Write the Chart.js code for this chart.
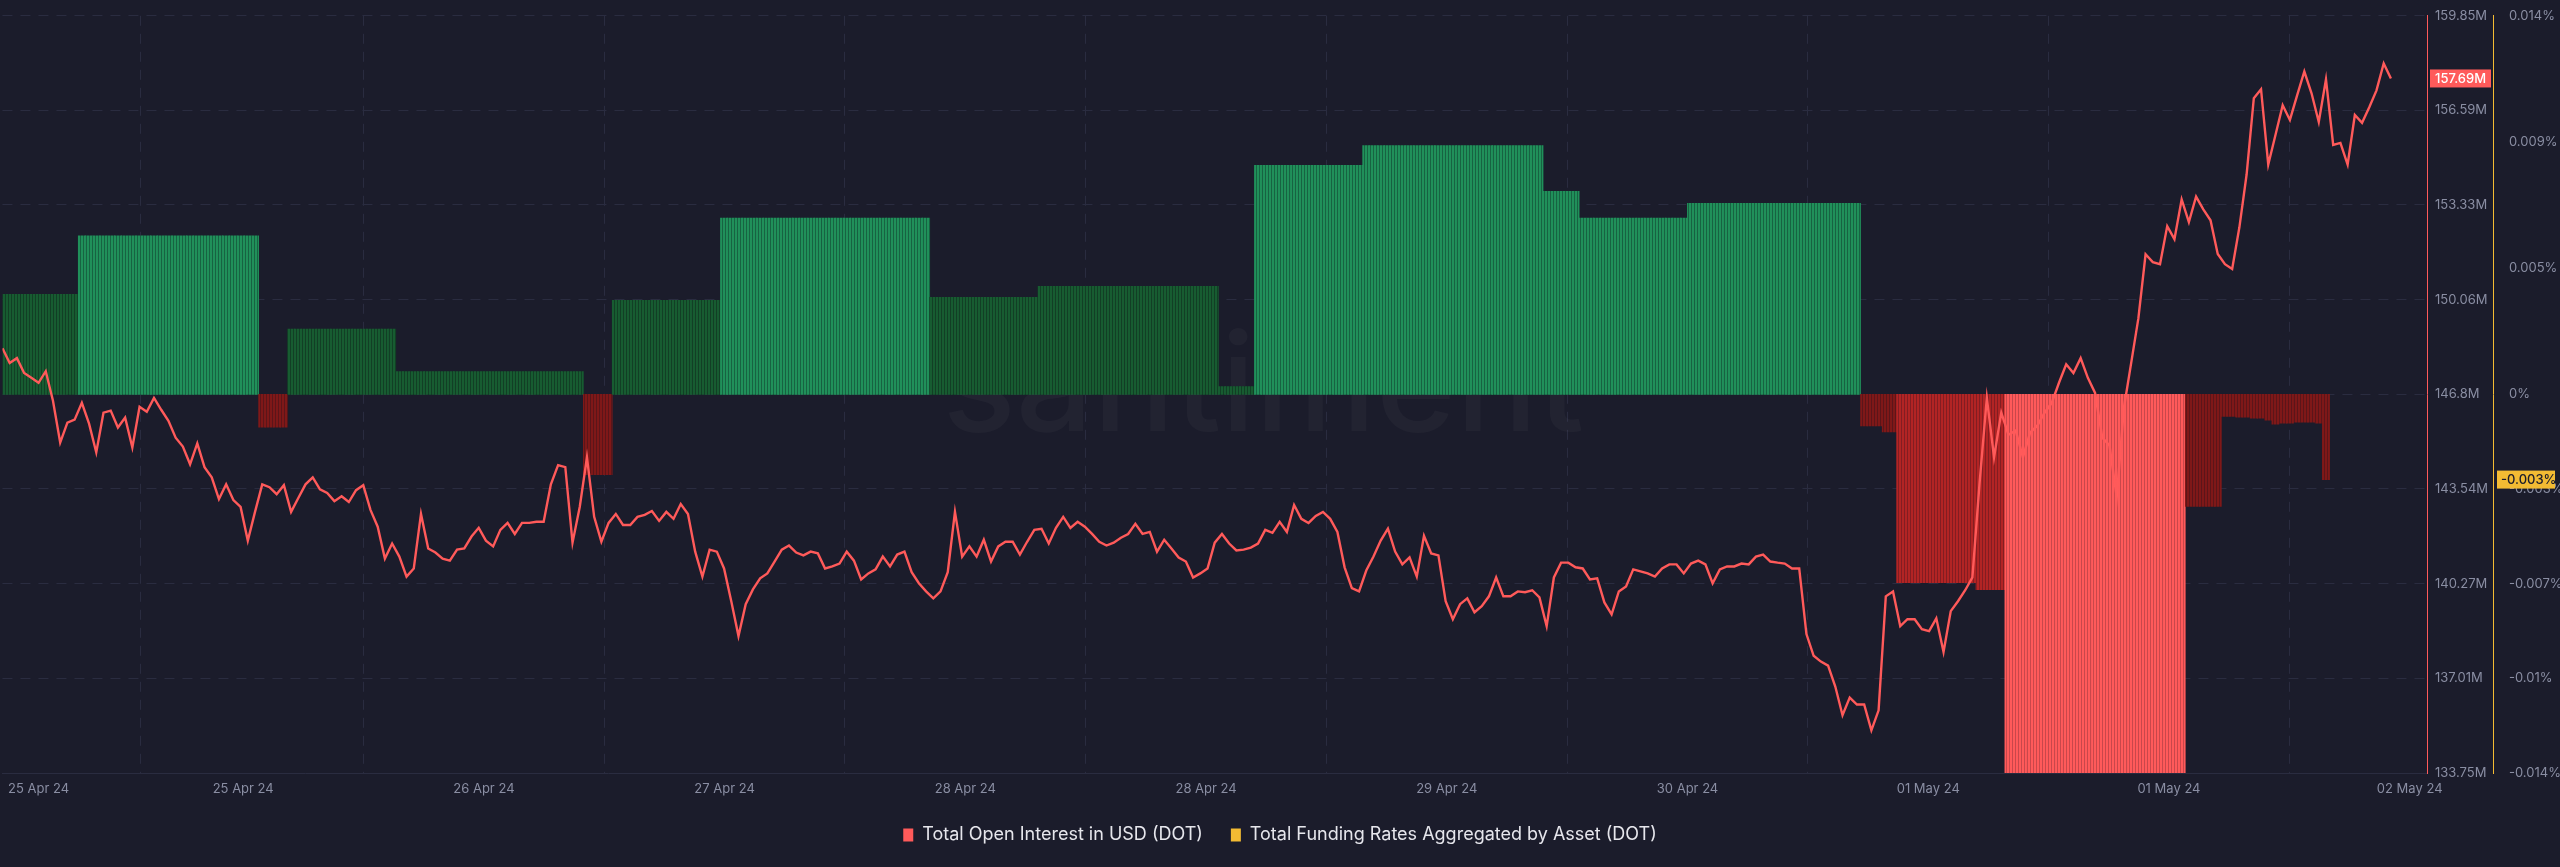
<!DOCTYPE html>
<html>
<head>
  <meta charset="utf-8" />
  <title>DOT Open Interest / Funding Rates</title>
  <style>
    html, body { margin: 0; padding: 0; background: #1b1c2b; }
    #wrap { width: 2560px; height: 867px; }
  </style>
</head>
<body>
  <div id="wrap"><canvas id="stage"></canvas></div>

  <script src="https://cdn.jsdelivr.net/npm/chart.js"></script>
  <script>
    // one sample every 30 minutes
    const stepHours = 0.5;

    // Total Open Interest in USD (DOT), millions
    const openInterest = [
      148.39, 147.88, 148.05, 147.54, 147.37, 147.20, 147.60, 146.58, 145.14, 145.83,
      145.93, 146.51, 145.79, 144.80, 146.17, 146.24, 145.66, 146.00, 144.97, 146.37,
      146.20, 146.68, 146.27, 145.89, 145.31, 145.00, 144.39, 145.11, 144.29, 143.94,
      143.19, 143.70, 143.16, 142.92, 141.76, 142.75, 143.70, 143.60, 143.36, 143.67,
      142.75, 143.23, 143.70, 143.94, 143.53, 143.40, 143.12, 143.29, 143.09, 143.50,
      143.67, 142.82, 142.24, 141.14, 141.66, 141.21, 140.52, 140.80, 142.68, 141.49,
      141.35, 141.14, 141.07, 141.45, 141.49, 141.90, 142.20, 141.76, 141.56, 142.13,
      142.37, 141.99, 142.37, 142.37, 142.41, 142.41, 143.70, 144.36, 144.29, 141.69,
      142.92, 144.63, 142.58, 141.72, 142.37, 142.68, 142.30, 142.30, 142.58, 142.65,
      142.78, 142.44, 142.75, 142.51, 143.02, 142.68, 141.38, 140.52, 141.45, 141.38,
      140.80, 139.67, 138.47, 139.57, 140.08, 140.46, 140.63, 141.04, 141.45, 141.59,
      141.35, 141.25, 141.38, 141.32, 140.80, 140.87, 140.97, 141.38, 141.07, 140.42,
      140.63, 140.77, 141.21, 140.87, 141.28, 141.38, 140.67, 140.29, 140.01, 139.77,
      140.01, 140.67, 142.75, 141.21, 141.56, 141.21, 141.79, 141.04, 141.56, 141.72,
      141.72, 141.28, 141.72, 142.13, 142.17, 141.66, 142.20, 142.58, 142.20, 142.41,
      142.24, 141.99, 141.72, 141.59, 141.69, 141.86, 141.99, 142.34, 141.99, 142.06,
      141.38, 141.79, 141.49, 141.18, 141.04, 140.49, 140.63, 140.80, 141.69, 141.99,
      141.66, 141.42, 141.45, 141.52, 141.66, 142.13, 142.03, 142.41, 142.06, 142.99,
      142.51, 142.37, 142.61, 142.75, 142.51, 142.06, 140.84, 140.12, 140.01, 140.73,
      141.21, 141.76, 142.17, 141.38, 140.94, 141.18, 140.52, 141.93, 141.32, 141.25,
      139.67, 139.05, 139.57, 139.77, 139.29, 139.50, 139.84, 140.49, 139.84, 139.84,
      140.01, 139.98, 140.05, 139.80, 138.81, 140.49, 141.00, 141.00, 140.84, 140.80,
      140.42, 140.46, 139.63, 139.22, 140.01, 140.18, 140.77, 140.70, 140.63, 140.52,
      140.80, 140.94, 140.94, 140.63, 140.97, 141.07, 140.94, 140.29, 140.77, 140.87,
      140.87, 140.97, 140.94, 141.21, 141.28, 141.04, 141.00, 140.97, 140.80, 140.80,
      138.54, 137.79, 137.59, 137.45, 136.73, 135.74, 136.35, 136.11, 136.11, 135.22,
      135.91, 139.84, 140.01, 138.81, 139.05, 139.05, 138.71, 138.64, 139.08, 137.92,
      139.33, 139.67, 140.05, 140.49, 143.77, 146.68, 144.63, 146.17, 145.41, 145.55,
      144.63, 145.48, 145.72, 146.17, 146.51, 147.20, 147.84, 147.54, 148.05, 147.37,
      146.85, 145.31, 145.04, 143.26, 146.34, 147.88, 149.42, 151.63, 151.36, 151.29,
      152.60, 152.15, 153.52, 152.74, 153.62, 153.18, 152.80, 151.64, 151.29, 151.12,
      152.56, 154.38, 157.01, 157.32, 154.72, 155.74, 156.77, 156.26, 157.11, 157.93,
      157.18, 156.19, 157.66, 155.40, 155.47, 154.72, 156.43, 156.16, 156.70, 157.28,
      158.21, 157.69
    ];

    // Total Funding Rates Aggregated by Asset (DOT), percent
    const fundingRates = [
      0.0037, 0.0037, 0.0037, 0.0037, 0.0037, 0.0037, 0.0037, 0.0037, 0.0037, 0.0037, 0.0037,
      0.00586, 0.00586, 0.00586, 0.00586, 0.00586, 0.00586, 0.00586, 0.00586, 0.00586, 0.00586,
      0.00586, 0.00586, 0.00586, 0.00586, 0.00586, 0.00586, 0.00586, 0.00586, 0.00586, 0.00586,
      0.00586, 0.00586, 0.00586, 0.00586, 0.00586,
      -0.00121, -0.00121, -0.00121, -0.00121,
      0.00242, 0.00242, 0.00242, 0.00242, 0.00242, 0.00242, 0.00242, 0.00242, 0.00242, 0.00242,
      0.00242, 0.00242, 0.00242, 0.00242, 0.00242,
      0.00084, 0.00084, 0.00084, 0.00084, 0.00084, 0.00084, 0.00084, 0.00084, 0.00084, 0.00084,
      0.00084, 0.00084, 0.00084, 0.00084, 0.00084, 0.00084, 0.00084, 0.00084, 0.00084, 0.00084,
      0.00084, 0.00084, 0.00084, 0.00084, 0.00084, 0.00084,
      -0.00297, -0.00297, -0.00297, -0.00297,
      0.00348, 0.00348, 0.00348, 0.00348, 0.00348, 0.00348, 0.00348, 0.00348, 0.00348, 0.00348,
      0.00348, 0.00348, 0.00348, 0.00348, 0.00348,
      0.00652, 0.00652, 0.00652, 0.00652, 0.00652, 0.00652, 0.00652, 0.00652, 0.00652, 0.00652,
      0.00652, 0.00652, 0.00652, 0.00652, 0.00652, 0.00652, 0.00652, 0.00652, 0.00652, 0.00652,
      0.00652, 0.00652, 0.00652, 0.00652, 0.00652, 0.00652, 0.00652, 0.00652, 0.00652,
      0.00359, 0.00359, 0.00359, 0.00359, 0.00359, 0.00359, 0.00359, 0.00359, 0.00359, 0.00359,
      0.00359, 0.00359, 0.00359, 0.00359, 0.00359,
      0.004, 0.004, 0.004, 0.004, 0.004, 0.004, 0.004, 0.004, 0.004, 0.004,
      0.004, 0.004, 0.004, 0.004, 0.004, 0.004, 0.004, 0.004, 0.004, 0.004,
      0.004, 0.004, 0.004, 0.004, 0.004,
      0.00029, 0.00029, 0.00029, 0.00029, 0.00029,
      0.00847, 0.00847, 0.00847, 0.00847, 0.00847, 0.00847, 0.00847, 0.00847, 0.00847, 0.00847,
      0.00847, 0.00847, 0.00847, 0.00847, 0.00847,
      0.0092, 0.0092, 0.0092, 0.0092, 0.0092, 0.0092, 0.0092, 0.0092, 0.0092, 0.0092,
      0.0092, 0.0092, 0.0092, 0.0092, 0.0092, 0.0092, 0.0092, 0.0092, 0.0092, 0.0092,
      0.0092, 0.0092, 0.0092, 0.0092, 0.0092,
      0.00751, 0.00751, 0.00751, 0.00751, 0.00751,
      0.00652, 0.00652, 0.00652, 0.00652, 0.00652, 0.00652, 0.00652, 0.00652, 0.00652, 0.00652,
      0.00652, 0.00652, 0.00652, 0.00652, 0.00652,
      0.00707, 0.00707, 0.00707, 0.00707, 0.00707, 0.00707, 0.00707, 0.00707, 0.00707, 0.00707,
      0.00707, 0.00707, 0.00707, 0.00707, 0.00707, 0.00707, 0.00707, 0.00707, 0.00707, 0.00707,
      0.00707, 0.00707, 0.00707, 0.00707,
      -0.00117, -0.00117, -0.00117, -0.00139, -0.00139,
      -0.00696, -0.00696, -0.00696, -0.00696, -0.00696, -0.00696, -0.00696, -0.00696, -0.00696, -0.00696,
      -0.00696, -0.00722, -0.00722, -0.00722, -0.00722,
      -0.014, -0.014, -0.014, -0.014, -0.014, -0.014, -0.014, -0.014, -0.014, -0.014,
      -0.014, -0.014, -0.014, -0.014, -0.014, -0.014, -0.014, -0.014, -0.014, -0.014,
      -0.014, -0.014, -0.014, -0.014, -0.014,
      -0.00414, -0.00414, -0.00414, -0.00414, -0.00414,
      -0.00081, -0.00081, -0.00084, -0.00084, -0.00088, -0.00088, -0.00095, -0.0011, -0.00106, -0.00106,
      -0.00103, -0.00103, -0.00103, -0.00106, -0.00315
    ];

    // x axis: hours from the start of the window
    const xTickHours = [2.5, 16.68, 33.36, 50.04, 66.72, 83.4, 100.08, 116.76, 133.44, 150.12, 166.8];
    const xTickLabels = ['25 Apr 24', '25 Apr 24', '26 Apr 24', '27 Apr 24', '28 Apr 24', '28 Apr 24',
                         '29 Apr 24', '30 Apr 24', '01 May 24', '01 May 24', '02 May 24'];

    const oiTicks = [133.75, 137.01, 140.27, 143.54, 146.8, 150.06, 153.33, 156.59, 159.85];
    const frTicks = [-0.014, -0.0105, -0.007, -0.0035, 0, 0.00467, 0.00933, 0.014];
    const frTickLabels = ['-0.014%', '-0.01%', '-0.007%', '-0.003%', '0%', '0.005%', '0.009%', '0.014%'];

    const RED = '#ff5a5a';
    const YELLOW = '#f3bb33';
    const GRID = '#2a2c40';
    const TICK = '#8a8ea3';
    const FONT = 'Inter';

    // thin vertical stripes, like the dense bars of the original
    function stripes(color, gap) {
      const c = document.createElement('canvas');
      c.width = 3; c.height = 1;
      const g = c.getContext('2d');
      g.fillStyle = color; g.fillRect(0, 0, 2, 1);
      g.fillStyle = gap; g.fillRect(2, 0, 1, 1);
      return g.createPattern(c, 'repeat');
    }
    const fills = {
      greenBright: stripes('#20905a', '#176342'),
      greenDark: stripes('#175c31', '#123f25'),
      redBright: stripes('#ff5a5a', '#c9474b'),
      redMid: stripes('#b22424', '#831d22'),
      redDark: stripes('#7f1818', '#5c1519')
    };
    function barFill(v) {
      if (v >= 0.005) return fills.greenBright;
      if (v >= 0) return fills.greenDark;
      if (v <= -0.01) return fills.redBright;
      if (v <= -0.005) return fills.redMid;
      return fills.redDark;
    }

    function badge(ctx, scale, value, text, bg, fg, x0, x1) {
      const y = scale.getPixelForValue(value);
      ctx.fillStyle = bg;
      ctx.fillRect(scale.left + x0, y - 9, scale.width - x0 - x1, 18);
      ctx.fillStyle = fg;
      ctx.font = '500 13px ' + FONT;
      ctx.textAlign = 'left';
      ctx.textBaseline = 'middle';
      ctx.fillText(text, scale.left + 8, y + 1);
    }

    const overlay = {
      id: 'overlay',
      beforeDatasetsDraw(chart) {
        const {ctx, chartArea} = chart;
        ctx.save();
        ctx.font = '500 136px ' + FONT;
        ctx.fillStyle = 'rgba(255,255,255,0.033)';
        ctx.textAlign = 'center';
        ctx.textBaseline = 'alphabetic';
        ctx.fillText('santiment', chartArea.left + chartArea.width * 0.52, chartArea.top + chartArea.height * 0.548);
        ctx.restore();
      },
      afterDraw(chart) {
        const ctx = chart.ctx;
        ctx.save();
        const oiLast = openInterest[openInterest.length - 1];
        const frLast = fundingRates[fundingRates.length - 1];
        badge(ctx, chart.scales.y, oiLast, oiLast.toFixed(2) + 'M', RED, '#ffffff', 3, 2);
        badge(ctx, chart.scales.y1, frLast, frLast.toFixed(3) + '%', YELLOW, '#1b1c2b', 4, 5);
        ctx.restore();
      }
    };

    new Chart(document.getElementById('stage'), {
      type: 'line',
      data: {
        datasets: [{
          type: 'line',
          label: 'Total Open Interest in USD (DOT)',
          data: openInterest.map((v, i) => ({x: i * stepHours, y: v})),
          yAxisID: 'y',
          borderColor: RED,
          backgroundColor: RED,
          borderWidth: 2.4,
          pointRadius: 0,
          tension: 0,
          order: 0
        }, {
          type: 'bar',
          label: 'Total Funding Rates Aggregated by Asset (DOT)',
          data: fundingRates.map((v, i) => ({x: i * stepHours, y: v})),
          yAxisID: 'y1',
          backgroundColor: c => c.type === 'data' ? barFill(c.raw.y) : YELLOW,
          borderWidth: 0,
          barPercentage: 1,
          categoryPercentage: 1,
          order: 1
        }]
      },
      options: {
        responsive: true,
        maintainAspectRatio: false,
        animation: false,
        layout: {padding: {top: 10, left: 0, right: 0, bottom: 13}},
        plugins: {
          tooltip: {enabled: false},
          legend: {
            position: 'bottom',
            labels: {
              color: '#e6e6ec',
              font: {family: FONT, size: 18},
              boxWidth: 10,
              boxHeight: 13,
              padding: 28,
              generateLabels: chart => chart.data.datasets.map((d, i) => ({
                text: d.label,
                fillStyle: i === 0 ? RED : YELLOW,
                strokeStyle: i === 0 ? RED : YELLOW,
                lineWidth: 0,
                fontColor: '#e6e6ec',
                datasetIndex: i
              }))
            }
          }
        },
        scales: {
          x: {
            type: 'linear',
            min: 0,
            max: 168,
            offset: false,
            afterBuildTicks: s => { s.ticks = xTickHours.map(v => ({value: v})); },
            afterFit: s => { s.height = 25; },
            ticks: {
              autoSkip: false,
              maxRotation: 0,
              padding: 8,
              color: TICK,
              font: {family: FONT, size: 13},
              callback: (v, i) => xTickLabels[i]
            },
            grid: {color: c => c.index === 0 ? 'rgba(0,0,0,0)' : GRID, drawTicks: false},
            border: {color: GRID, dash: [10, 8]}
          },
          y: {
            position: 'right',
            min: 133.75,
            max: 159.85,
            afterBuildTicks: s => { s.ticks = oiTicks.map(v => ({value: v})); },
            afterFit: s => { s.width = 66; },
            ticks: {
              padding: 8,
              color: TICK,
              font: {family: FONT, size: 13},
              callback: v => v + 'M'
            },
            grid: {color: GRID, drawTicks: false},
            border: {color: RED, dash: [10, 8]}
          },
          y1: {
            position: 'right',
            min: -0.014,
            max: 0.014,
            afterBuildTicks: s => { s.ticks = frTicks.map(v => ({value: v})); },
            afterFit: s => { s.width = 67; },
            ticks: {
              padding: 8,
              color: TICK,
              font: {family: FONT, size: 13},
              callback: (v, i) => frTickLabels[i]
            },
            grid: {display: false, drawOnChartArea: false},
            border: {color: YELLOW}
          }
        }
      },
      plugins: [overlay]
    });
  </script>
</body>
</html>
